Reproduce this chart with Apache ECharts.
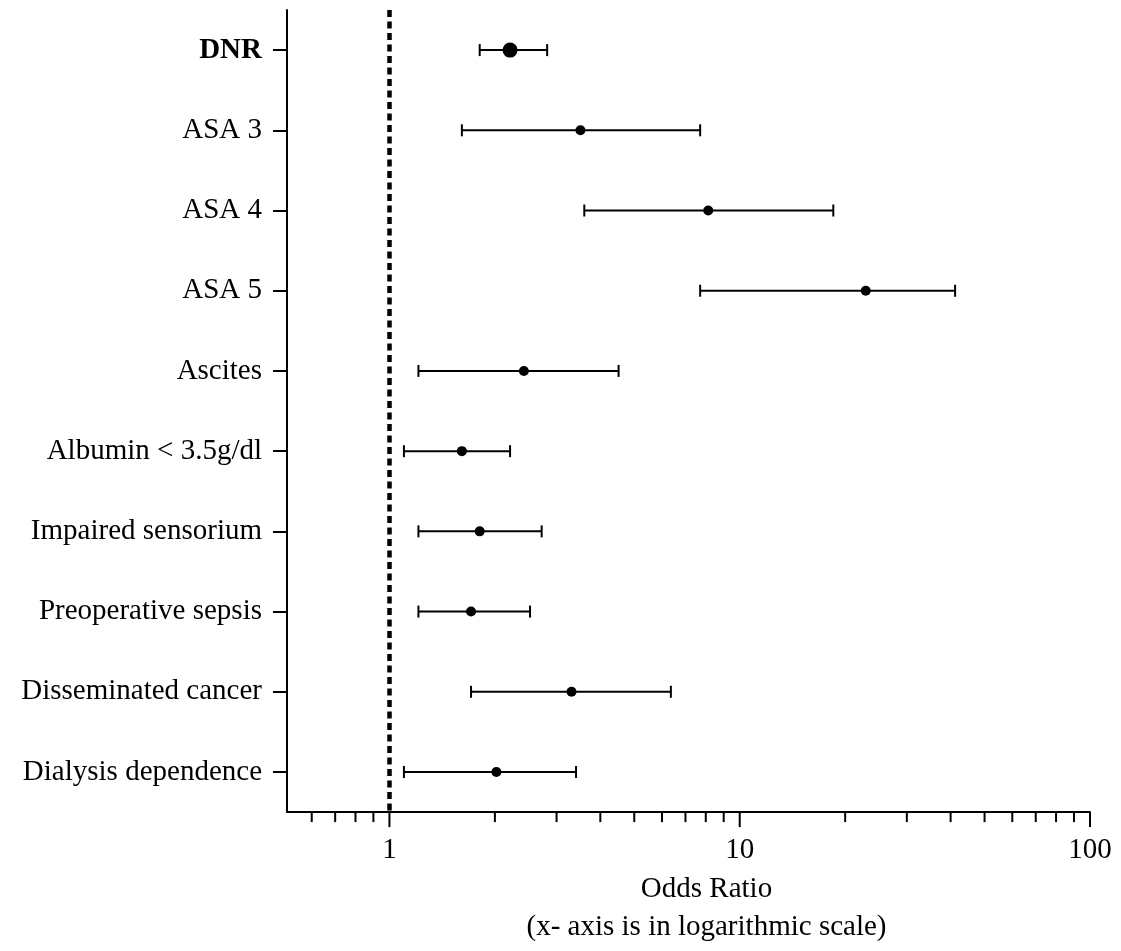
<!DOCTYPE html>
<html>
<head>
<meta charset="utf-8">
<title>Odds ratio forest plot</title>
<script src="https://cdn.jsdelivr.net/npm/echarts@6/dist/echarts.min.js"></script>
<style>
  html, body { margin: 0; padding: 0; background: #fff; }
  #main { width: 1121px; height: 951px; }
</style>
</head>
<body>
<div id="main"></div>
<script>
// 变量名称（从上到下）
const categories = ['DNR', 'ASA 3', 'ASA 4', 'ASA 5', 'Ascites', 'Albumin < 3.5g/dl',
  'Impaired sensorium', 'Preoperative sepsis', 'Disseminated cancer', 'Dialysis dependence'];
// 比值比及95%置信区间
const oddsRatio = [2.21, 3.51, 8.13, 22.9, 2.42, 1.61, 1.81, 1.71, 3.31, 2.02];
const ciLower   = [1.81, 1.61, 3.60, 7.71, 1.21, 1.10, 1.21, 1.21, 1.71, 1.10];
const ciUpper   = [2.82, 7.71, 18.5, 41.2, 4.51, 2.21, 2.72, 2.52, 6.36, 3.41];
// x轴刻度
const xTicks = [0.6, 0.7, 0.8, 0.9, 1, 2, 3, 4, 5, 6, 7, 8, 9, 10,
  20, 30, 40, 50, 60, 70, 80, 90, 100];
const xLabels = [1, 10, 100];

const font = '"Liberation Serif", "Times New Roman", serif';
const isPow10 = v => Math.abs(Math.log10(v) - Math.round(Math.log10(v))) < 1e-6;

let chart = echarts.init(document.getElementById('main'));

let option = {
  animation: false,
  grid: { left: 287, right: 31, top: 10, bottom: 138 },
  xAxis: {
    type: 'log',
    logBase: 10,
    min: 0.51,
    max: 100,
    axisLine: { show: true, lineStyle: { color: '#000', width: 2 } },
    axisTick: { show: false },
    splitLine: { show: false },
    axisLabel: {
      margin: 24,
      color: '#000',
      fontFamily: font,
      fontSize: 29,
      formatter: v => (isPow10(v) && xLabels.indexOf(Math.round(v)) >= 0) ? String(Math.round(v)) : ''
    },
    name: 'Odds Ratio\n(x- axis is in logarithmic scale)',
    nameLocation: 'middle',
    nameGap: 55,
    nameTextStyle: {
      color: '#000',
      fontFamily: font,
      fontSize: 29,
      lineHeight: 38,
      verticalAlign: 'top',
      padding: [0, 0, 0, 36]
    }
  },
  yAxis: {
    type: 'category',
    inverse: true,
    data: categories.map((c, i) => i === 0 ? { value: c, textStyle: { fontWeight: 'bold' } } : c),
    axisLine: { show: true, lineStyle: { color: '#000', width: 2 } },
    axisTick: { show: true, interval: 0, alignWithLabel: true, length: 14, lineStyle: { color: '#000', width: 2 } },
    axisLabel: { interval: 0, margin: 25, color: '#000', fontFamily: font, fontSize: 29 },
    splitLine: { show: false }
  },
  series: [
    {
      // 置信区间误差线
      type: 'custom',
      encode: { x: [1, 2], y: 0 },
      data: categories.map((c, i) => [i, ciLower[i], ciUpper[i]]),
      renderItem: function (params, api) {
        const lo = api.coord([api.value(1), api.value(0)]);
        const hi = api.coord([api.value(2), api.value(0)]);
        const h = 6;
        const st = { stroke: '#000', lineWidth: 2 };
        return {
          type: 'group',
          children: [
            { type: 'line', shape: { x1: lo[0], y1: lo[1], x2: hi[0], y2: hi[1] }, style: st },
            { type: 'line', shape: { x1: lo[0], y1: lo[1] - h, x2: lo[0], y2: lo[1] + h }, style: st },
            { type: 'line', shape: { x1: hi[0], y1: hi[1] - h, x2: hi[0], y2: hi[1] + h }, style: st }
          ]
        };
      },
      z: 2
    },
    {
      type: 'scatter',
      data: oddsRatio.map((v, i) => ({ value: [v, i], symbolSize: i === 0 ? 15 : 10 })),
      itemStyle: { color: '#000', opacity: 1 },
      z: 3,
      markLine: {
        silent: true,
        symbol: 'none',
        label: { show: false },
        lineStyle: { color: '#000', width: 4.5, type: [7, 4.5], opacity: 1 },
        data: [{ xAxis: 1 }]
      }
    },
    {
      // x轴主/次刻度
      type: 'custom',
      encode: { x: 0, y: 1 },
      data: xTicks.map(v => [v, 0]),
      renderItem: function (params, api) {
        const v = api.value(0);
        const x = api.coord([v, 0])[0];
        const bottom = params.coordSys.y + params.coordSys.height;
        const len = isPow10(v) ? 15 : 10;
        return {
          type: 'line',
          shape: { x1: x, y1: bottom, x2: x, y2: bottom + len },
          style: { stroke: '#000', lineWidth: 2 }
        };
      },
      silent: true
    }
  ]
};

chart.setOption(option);
</script>
</body>
</html>
